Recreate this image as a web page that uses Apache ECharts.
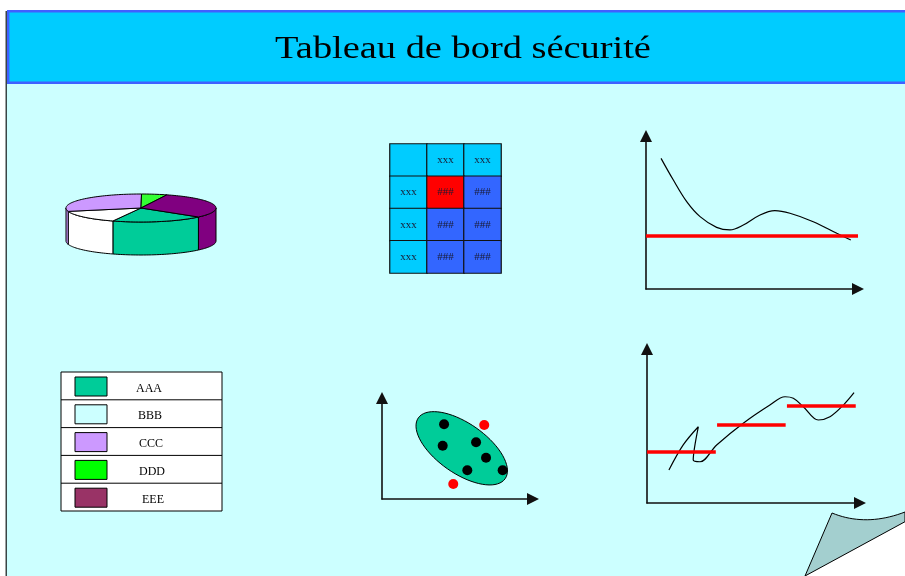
<!DOCTYPE html>
<html>
<head>
<meta charset="utf-8">
<title>Tableau de bord sécurité</title>
<script src="https://cdn.jsdelivr.net/npm/echarts@6/dist/echarts.min.js"></script>
<style>
  html, body { margin: 0; padding: 0; background: #fff; }
  #main { width: 905px; height: 576px; }
</style>
</head>
<body>
<div id="main"></div>
<script>
// ---- données ----
var categories = ['AAA', 'BBB', 'CCC', 'DDD', 'EEE'];
var pieValues = [20, 15, 29, 5.5, 30.5];
var pieColors = ['#00CC99', '#FFFFFF', '#CC99FF', '#33FF33', '#800080'];
var legendColors = ['#00CC99', '#CCFFFF', '#CC99FF', '#00FF00', '#993366'];

var tableCols = ['c0', 'c1', 'c2'];
var tableRows = ['r0', 'r1', 'r2', 'r3'];
var tableText = [
  ['', 'xxx', 'xxx'],
  ['xxx', '###', '###'],
  ['xxx', '###', '###'],
  ['xxx', '###', '###']
];
// 0 = entete, 1 = alerte, 2 = normal
var tableStatus = [
  [0, 0, 0],
  [0, 1, 2],
  [0, 2, 2],
  [0, 2, 2]
];

var trendX = [0.71, 1.29, 1.92, 2.55, 3.33, 3.96, 4.59, 5.38, 6.08, 6.79, 7.89, 9.0, 9.66];
var trendY = [8.54, 7.12, 5.71, 4.73, 4.03, 3.86, 4.18, 4.84, 5.12, 4.95, 4.40, 3.64, 3.2];
var trendLimit = 3.46;

var clusterIn = [[4.11, 7.40], [4.02, 5.28], [6.23, 5.61], [6.89, 4.09], [5.65, 2.84], [7.99, 2.84]];
var clusterOut = [[6.77, 7.33], [4.72, 1.49]];
var clusterCenter = [5.28, 5.02];

var stepX = [1.03, 1.70, 2.41, 2.17, 2.49, 3.27, 4.52, 5.77, 6.48, 6.87, 7.34, 8.04, 8.59, 9.22, 9.72];
var stepY = [2.14, 3.77, 4.95, 2.79, 2.68, 3.77, 5.18, 6.36, 6.90, 6.80, 6.25, 5.39, 5.60, 6.36, 7.16];
// [debut, fin, niveau]
var stepLimits = [[0, 3.23, 3.31], [3.29, 6.51, 5.05], [6.57, 9.8, 6.34]];

var SERIF = '"Liberation Serif", "Times New Roman", serif';

// ---- camembert 3D ----
var PIE = { cx: 141, cy: 208, rx: 75, ry: 14, depth: 33, start: 130 };
var pieTotal = pieValues.reduce(function (a, b) { return a + b; }, 0);

function piePt(deg, dy) {
  var r = deg * Math.PI / 180;
  return [PIE.cx + PIE.rx * Math.sin(r), PIE.cy - PIE.ry * Math.cos(r) + (dy || 0)];
}
function arcPts(a0, a1, dy) {
  var pts = [], n = Math.max(2, Math.ceil((a1 - a0) / 2));
  for (var i = 0; i <= n; i++) pts.push(piePt(a0 + (a1 - a0) * i / n, dy));
  return pts;
}
function renderSlice(params, api) {
  var i = params.dataIndex;
  var before = 0;
  for (var k = 0; k < i; k++) before += pieValues[k];
  var a0 = PIE.start + 360 * before / pieTotal;
  var a1 = a0 + 360 * api.value(0) / pieTotal;
  var style = { fill: pieColors[i], stroke: '#000', lineWidth: 1 };
  var children = [];
  // cotes visibles (devant du disque)
  [[90, 270], [450, 630]].forEach(function (w) {
    var s = Math.max(a0, w[0]), e = Math.min(a1, w[1]);
    if (e > s) {
      var top = arcPts(s, e, 0), bot = arcPts(s, e, PIE.depth).reverse();
      children.push({ type: 'polygon', shape: { points: top.concat(bot) }, style: style });
    }
  });
  children.push({ type: 'polygon', shape: { points: [[PIE.cx, PIE.cy]].concat(arcPts(a0, a1, 0)) }, style: style });
  return { type: 'group', children: children };
}

function renderEllipse(params, api) {
  var c = api.coord([api.value(0), api.value(1)]);
  var rot = 35 * Math.PI / 180, a = 53, b = 25, pts = [];
  for (var t = 0; t < 72; t++) {
    var u = t / 72 * 2 * Math.PI;
    var ex = a * Math.cos(u), ey = b * Math.sin(u);
    pts.push([c[0] + ex * Math.cos(rot) - ey * Math.sin(rot), c[1] + ex * Math.sin(rot) + ey * Math.cos(rot)]);
  }
  return { type: 'polygon', shape: { points: pts }, style: { fill: '#00CC99', stroke: '#000', lineWidth: 1 } };
}

// ---- axes avec fleches ----
function arrowAxis(gridIndex) {
  return {
    type: 'value', gridIndex: gridIndex, min: 0, max: 10,
    axisLine: { show: true, onZero: false, symbol: ['none', 'triangle'], symbolSize: [12, 12],
      lineStyle: { color: '#111', width: 1.6 } },
    axisTick: { show: false }, axisLabel: { show: false }, splitLine: { show: false }
  };
}
function hiddenCat(gridIndex, data, inverse) {
  return { type: 'category', gridIndex: gridIndex, data: data, inverse: !!inverse, show: false };
}

var heatData = [];
tableRows.forEach(function (r, ri) {
  tableCols.forEach(function (c, ci) { heatData.push([ci, ri, tableStatus[ri][ci]]); });
});

// ---- legende en tableau ----
var legendGraphic = [{ type: 'rect', shape: { x: 61, y: 372, width: 161, height: 139 },
  style: { fill: '#fff', stroke: '#000', lineWidth: 1 } }];
categories.forEach(function (name, i) {
  var top = 372 + i * 27.8;
  if (i > 0) legendGraphic.push({ type: 'line', shape: { x1: 61, y1: top, x2: 222, y2: top },
    style: { stroke: '#000', lineWidth: 1 } });
  legendGraphic.push({ type: 'rect', shape: { x: 75, y: top + 5, width: 32, height: 19 },
    style: { fill: legendColors[i], stroke: '#000', lineWidth: 1 } });
  legendGraphic.push({ type: 'text', x: 149 + i, y: top + 16.5,
    style: { text: name, font: '12px ' + SERIF, fill: '#000', textAlign: 'center', textVerticalAlign: 'middle' } });
});

// coin de page corne
var curl = [];
for (var q = 0; q <= 20; q++) {
  var t = q / 20;
  curl.push([(1 - t) * (1 - t) * 832 + 2 * t * (1 - t) * 866 + t * t * 905,
    (1 - t) * (1 - t) * 513 + 2 * t * (1 - t) * 527 + t * t * 512]);
}
curl.push([905, 521.7], [805, 576]);

var myChart = echarts.init(document.getElementById('main'));
var option = {
  animation: false,
  backgroundColor: '#fff',
  graphic: [
    { type: 'rect', shape: { x: 5.5, y: 11, width: 1.6, height: 565 }, style: { fill: '#3a4545' } },
    { type: 'rect', shape: { x: 7, y: 84, width: 898, height: 492 }, style: { fill: '#CCFFFF' } },
    { type: 'rect', shape: { x: 8.2, y: 11.2, width: 910, height: 71.5 },
      style: { fill: '#00CCFF', stroke: '#4060FF', lineWidth: 2.4 } },
    { type: 'text', x: 463, y: 50, scaleX: 1.2,
      style: { text: 'Tableau de bord sécurité', font: '32px ' + SERIF, fill: '#000',
        textAlign: 'center', textVerticalAlign: 'middle' } }
  ].concat(legendGraphic).concat([
    { type: 'polygon', z: 50, shape: { points: [[905, 521.7], [905, 576], [805, 576]] },
      style: { fill: '#fff' } },
    { type: 'polygon', z: 51, shape: { points: curl },
      style: { fill: '#A3CFCF', stroke: '#000', lineWidth: 1 } }
  ]),
  grid: [
    { left: 390, top: 144, width: 111, height: 129, outerBoundsMode: 'none' },
    { left: 646, top: 136, width: 212, height: 153, outerBoundsMode: 'none' },
    { left: 382, top: 398, width: 151, height: 101, outerBoundsMode: 'none' },
    { left: 647, top: 349, width: 213, height: 154, outerBoundsMode: 'none' }
  ],
  xAxis: [hiddenCat(0, tableCols), arrowAxis(1), arrowAxis(2), arrowAxis(3)],
  yAxis: [hiddenCat(0, tableRows, true), arrowAxis(1), arrowAxis(2), arrowAxis(3)],
  visualMap: {
    type: 'piecewise', show: false, seriesIndex: 1, dimension: 2,
    pieces: [{ value: 0, color: '#00CCFF' }, { value: 1, color: '#FF0000' }, { value: 2, color: '#3366FF' }]
  },
  series: [
    {
      type: 'custom', coordinateSystem: 'none', renderItem: renderSlice, silent: true,
      data: pieValues.map(function (v, i) { return { name: categories[i], value: v }; })
    },
    {
      type: 'heatmap', xAxisIndex: 0, yAxisIndex: 0, data: heatData,
      itemStyle: { borderColor: '#111', borderWidth: 1.2 },
      label: { show: true, fontFamily: SERIF, fontSize: 11, color: '#1a1a33',
        formatter: function (p) { return tableText[p.value[1]][p.value[0]]; } }
    },
    {
      type: 'line', xAxisIndex: 1, yAxisIndex: 1, smooth: 0.35, symbol: 'none',
      lineStyle: { color: '#000', width: 1.2 },
      data: trendX.map(function (x, i) { return [x, trendY[i]]; }),
      markLine: {
        silent: true, symbol: ['none', 'none'], label: { show: false },
        lineStyle: { color: '#FF0000', width: 3.5, type: 'solid' },
        data: [[{ coord: [0, trendLimit] }, { coord: [10, trendLimit] }]]
      }
    },
    {
      type: 'custom', xAxisIndex: 2, yAxisIndex: 2, renderItem: renderEllipse, silent: true,
      data: [clusterCenter]
    },
    {
      type: 'scatter', xAxisIndex: 2, yAxisIndex: 2, symbolSize: 10, z: 3,
      itemStyle: { color: '#000', opacity: 1 }, data: clusterIn
    },
    {
      type: 'scatter', xAxisIndex: 2, yAxisIndex: 2, symbolSize: 10, z: 3,
      itemStyle: { color: '#FF0000', opacity: 1 }, data: clusterOut
    },
    {
      type: 'line', xAxisIndex: 3, yAxisIndex: 3, smooth: 0.35, symbol: 'none',
      lineStyle: { color: '#000', width: 1.2 },
      data: stepX.map(function (x, i) { return [x, stepY[i]]; }),
      markLine: {
        silent: true, symbol: ['none', 'none'], label: { show: false },
        lineStyle: { color: '#FF0000', width: 3.5, type: 'solid' },
        data: stepLimits.map(function (s) { return [{ coord: [s[0], s[2]] }, { coord: [s[1], s[2]] }]; })
      }
    }
  ]
};
myChart.setOption(option);
</script>
</body>
</html>
